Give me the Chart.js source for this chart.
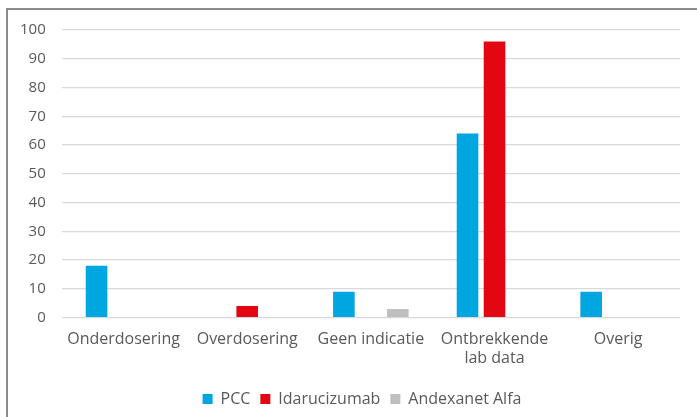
<!DOCTYPE html>
<html>
<head>
<meta charset="utf-8">
<script src="https://cdn.jsdelivr.net/npm/chart.js@4"></script>
<style>
  html, body { margin: 0; padding: 0; background: #fff; }
  #wrap { position: relative; width: 697px; height: 417px; }
</style>
</head>
<body>
<div id="wrap"><canvas id="chart" width="697" height="417"></canvas></div>
<script>
const categories = ["Onderdosering", "Overdosering", "Geen indicatie", ["Ontbrekkende", "lab data"], "Overig"];
const pcc = [18, 0, 9, 64, 9];
const idarucizumab = [0, 4, 0, 96, 0];
const andexanet = [0, 0, 3, 0, 0];
const yTicks = [0, 10, 20, 30, 40, 50, 60, 70, 80, 90, 100];

const textColor = "#595959";
const fontFamily = "'Open Sans', sans-serif";

// frame round the whole chart, and the legend nudged under the plot
const framePlugin = {
  id: "frame",
  afterLayout(chart) {
    const lg = chart.legend;
    lg.left += 20;
    lg.right += 20;
  },
  beforeDraw(chart) {
    const ctx = chart.ctx;
    ctx.save();
    ctx.fillStyle = "#fff";
    ctx.fillRect(0, 0, chart.width, chart.height);
    ctx.strokeStyle = "#8c8c8c";
    ctx.lineWidth = 2;
    ctx.strokeRect(7, 9, 900, 600);
    ctx.restore();
  }
};

new Chart(document.getElementById("chart").getContext("2d"), {
  type: "bar",
  data: {
    labels: categories,
    datasets: [
      { label: "PCC", data: pcc, backgroundColor: "#00a6e0" },
      { label: "Idarucizumab", data: idarucizumab, backgroundColor: "#e30613" },
      { label: "Andexanet Alfa", data: andexanet, backgroundColor: "#bfbfbf" }
    ]
  },
  options: {
    responsive: false,
    animation: false,
    datasets: { bar: { categoryPercentage: 0.655, barPercentage: 0.8 } },
    layout: { padding: { left: 4, right: 17, top: 30, bottom: 0 } },
    plugins: {
      legend: {
        position: "bottom",
        labels: {
          color: textColor,
          font: { family: fontFamily, size: 16 },
          boxWidth: 10,
          boxHeight: 10,
          padding: 10
        }
      },
      tooltip: { enabled: false }
    },
    scales: {
      x: {
        grid: { display: false },
        border: { display: false },
        afterFit(axis) { axis.height += 9; },
        ticks: {
          color: textColor,
          font: { family: fontFamily, size: 16 },
          maxRotation: 0,
          autoSkip: false,
          padding: 4
        }
      },
      y: {
        min: 0,
        max: 100,
        afterBuildTicks(axis) { axis.ticks = yTicks.map(v => ({ value: v })); },
        grid: { color: "#d9d9d9", lineWidth: 1.3, drawTicks: false },
        border: { display: false },
        ticks: {
          color: textColor,
          font: { family: fontFamily, size: 15 },
          padding: 16
        }
      }
    }
  },
  plugins: [framePlugin]
});
</script>
</body>
</html>
